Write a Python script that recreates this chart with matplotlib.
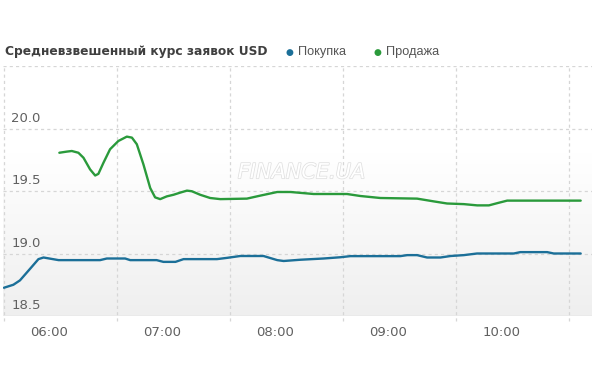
import matplotlib.pyplot as plt
import matplotlib.patheffects as pe
from matplotlib.colors import LinearSegmentedColormap
import numpy as np

# time in minutes after midnight
buy_t = [336, 341, 344.5, 350, 354.3, 357, 365, 387, 390.6, 400.3, 403, 417, 420.6, 427, 431.3,
         449, 454.3, 461.4, 473.7, 481, 484.4, 493.2, 505.6, 514.5, 519.8, 546.3, 550, 555.2,
         560.5, 567.6, 573, 580, 587, 606.5, 610, 624.2, 627.7, 642]
buy_v = [18.726, 18.75, 18.785, 18.88, 18.955, 18.968, 18.947, 18.947, 18.96, 18.96, 18.947,
         18.947, 18.933, 18.933, 18.955, 18.955, 18.965, 18.98, 18.98, 18.947, 18.94, 18.95,
         18.96, 18.97, 18.979, 18.979, 18.987, 18.987, 18.968, 18.968, 18.98, 18.987, 19.0,
         19.0, 19.011, 19.011, 19.0, 19.0]

sell_t = [365.4, 369.3, 372, 375.5, 378.2, 381.7, 384.4, 386.1, 388.8, 392.3, 396.7, 401.2,
          403.9, 406.5, 410, 413.6, 416.2, 418.9, 422.4, 426, 429.5, 433.1, 435.7, 440.1, 445.4,
          450.8, 464.9, 472, 481, 488, 500.3, 518, 525.1, 535.7, 555.2, 564, 571.1, 580, 587.1,
          593.3, 597.8, 603, 642]
sell_v = [19.806, 19.815, 19.82, 19.806, 19.766, 19.673, 19.624, 19.637, 19.726, 19.834, 19.90,
          19.935, 19.927, 19.874, 19.713, 19.524, 19.449, 19.435, 19.457, 19.47, 19.487, 19.503,
          19.498, 19.47, 19.444, 19.435, 19.439, 19.463, 19.492, 19.492, 19.476, 19.476, 19.46,
          19.444, 19.439, 19.417, 19.40, 19.395, 19.385, 19.385, 19.403, 19.423, 19.423]

hour_ticks = [360, 420, 480, 540, 600]
hour_labels = ['06:00', '07:00', '08:00', '09:00', '10:00']
y_ticks = [18.5, 19.0, 19.5, 20.0]

blue = '#1b6f98'
green = '#2a9a3b'

fig = plt.figure(figsize=(6, 3.82), dpi=100)
ax = fig.add_axes([3 / 600, 1 - 316 / 382, 589 / 600, 250 / 382])

x0, x1 = 335.5, 648
y0, y1 = 18.5, 20.5
ax.set_xlim(x0, x1)
ax.set_ylim(y0, y1)

# background gradient (white top -> light gray bottom)
grad = np.linspace(0, 1, 256).reshape(-1, 1)
bg = LinearSegmentedColormap.from_list('bg', [(0, '#ffffff'), (0.35, '#ffffff'), (1, '#efefef')])
ax.imshow(grad, extent=[x0, x1, y0, y1], aspect='auto', origin='upper', cmap=bg, zorder=0)

# grid lines
grid_style = dict(color='#d6d6d6', lw=0.9, ls=(0, (2.5, 2.5)), zorder=1)
for v in [19.0, 19.5, 20.0, 20.5]:
    ax.axhline(v, **grid_style)
for g in range(336, 648, 60):
    ax.plot([g, g], [y0 - 0.04, y1], clip_on=False, **grid_style)
ax.axhline(y0, color='#dadada', lw=1, zorder=1)

for v in y_ticks:
    ax.text(340, v + 0.03, f'{v:.1f}', color='#606060', fontsize=9.5,
            ha='left', va='bottom', zorder=3)

ax.text(0.507, 0.575, 'FINANCE.UA', transform=ax.transAxes, fontsize=15, style='italic',
        color='#ffffff', ha='center', va='center', zorder=2,
        path_effects=[pe.withStroke(linewidth=1.1, foreground='#e0e0e0')])

ax.plot(buy_t, buy_v, color=blue, lw=1.7, zorder=4, solid_capstyle='round')
ax.plot(sell_t, sell_v, color=green, lw=1.7, zorder=4, solid_capstyle='round')

ax.set_xticks(hour_ticks)
ax.set_xticklabels(hour_labels, color='#606060', fontsize=9.5)
ax.tick_params(axis='x', length=0, pad=7)
ax.set_yticks([])
for s in ax.spines.values():
    s.set_visible(False)

# title and legend
fig.text(5 / 600, 1 - 52 / 382, 'Средневзвешенный курс заявок USD', fontsize=8.8,
         fontweight='bold', color='#3f3f3f', ha='left', va='center')
legend_font = dict(family='Liberation Sans', fontsize=9.2, color='#555555', ha='left', va='center')
fig.text(289 / 600, 1 - 52 / 382, '●', color=blue, fontsize=6.5, ha='center', va='center')
fig.text(298 / 600, 1 - 52 / 382, 'Покупка', **legend_font)
fig.text(377 / 600, 1 - 52 / 382, '●', color=green, fontsize=6.5, ha='center', va='center')
fig.text(386 / 600, 1 - 52 / 382, 'Продажа', **legend_font)

plt.savefig('out.png', dpi=100)
